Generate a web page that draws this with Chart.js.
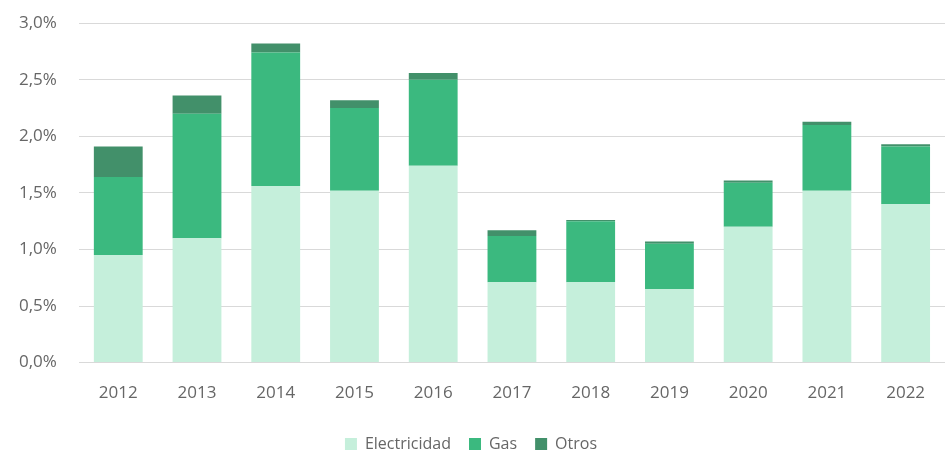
<!DOCTYPE html>
<html lang="es">
<head>
  <meta charset="UTF-8">
  <title>Electricidad, Gas y Otros</title>
  <script src="https://cdn.jsdelivr.net/npm/chart.js"></script>
  <style>
    html, body { margin: 0; padding: 0; background: #ffffff; overflow: hidden; }
    .wrap { width: 948px; height: 471px; margin-top: -9px; margin-left: -3px; }
  </style>
</head>
<body>
  <div class="wrap"><canvas id="barChart"></canvas></div>

  <script>
    const years = ['2012', '2013', '2014', '2015', '2016', '2017', '2018', '2019', '2020', '2021', '2022'];
    const electricidad = [0.95, 1.10, 1.56, 1.52, 1.74, 0.71, 0.71, 0.65, 1.20, 1.52, 1.40];
    const gas = [0.69, 1.10, 1.18, 0.73, 0.76, 0.41, 0.54, 0.40, 0.39, 0.58, 0.51];
    const otros = [0.27, 0.16, 0.08, 0.07, 0.06, 0.05, 0.01, 0.02, 0.02, 0.03, 0.02];

    const grey = '#666666';

    new Chart(document.getElementById('barChart'), {
      type: 'bar',
      data: {
        labels: years,
        datasets: [
          { label: 'Electricidad', data: electricidad, backgroundColor: '#c5efdb' },
          { label: 'Gas', data: gas, backgroundColor: '#3bb97f' },
          { label: 'Otros', data: otros, backgroundColor: '#42906a' }
        ]
      },
      options: {
        responsive: true,
        maintainAspectRatio: false,
        animation: false,
        datasets: { bar: { categoryPercentage: 0.62, barPercentage: 1 } },
        layout: { padding: { top: 0, right: 0, left: 0, bottom: 0 } },
        scales: {
          x: {
            stacked: true,
            grid: { display: false },
            border: { display: false },
            ticks: { color: grey, font: { family: 'Open Sans', size: 17 }, padding: 12 },
            // leave a wider gap between the year labels and the legend
            afterFit: s => { s.height += 3; }
          },
          y: {
            stacked: true,
            min: 0,
            max: 3,
            grid: { color: '#d9d9d9', lineWidth: 1, drawTicks: false },
            border: { display: false },
            ticks: {
              stepSize: 0.5,
              color: grey,
              padding: 22,
              font: { family: 'Open Sans', size: 17 },
              callback: v => v.toFixed(1).replace('.', ',') + '%'
            }
          }
        },
        plugins: {
          legend: {
            position: 'bottom',
            labels: {
              color: grey,
              font: { family: 'Open Sans', size: 16 },
              boxWidth: 12,
              boxHeight: 12,
              padding: 18
            }
          },
          tooltip: { enabled: false }
        }
      }
    });
  </script>
</body>
</html>
